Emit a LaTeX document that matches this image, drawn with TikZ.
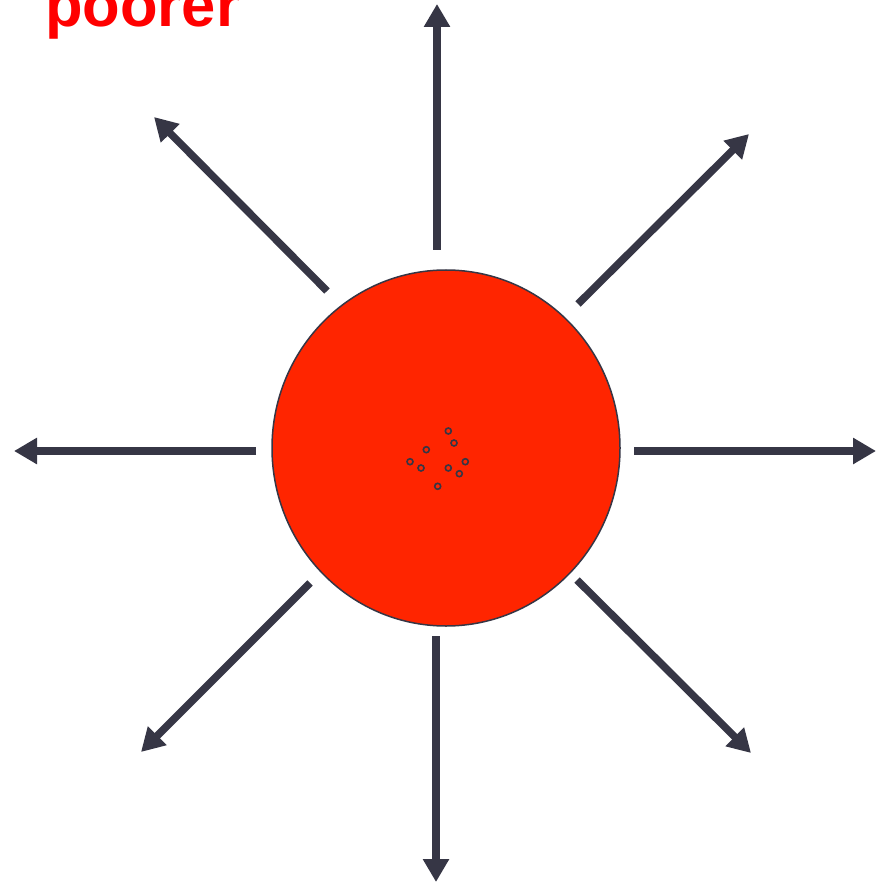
\documentclass[tikz,border=0pt]{standalone}
\usepackage{fontspec}
\setmainfont{Liberation Sans}
\usetikzlibrary{arrows.meta,shapes.geometric}
\definecolor{arr}{HTML}{363645}
\definecolor{ball}{HTML}{FF2500}
\definecolor{txt}{HTML}{FF0000}
\tikzset{
  ray/.style={draw=arr,line width=7.5pt,-{Triangle[length=23pt,width=25pt]}},
  dot/.style={circle,draw=arr,line width=1.6pt,minimum size=6pt,inner sep=0pt}
}
\begin{document}
\begin{tikzpicture}[x=1pt,y=-1pt]
\useasboundingbox (0,0) rectangle (876,882);
\node[ellipse,draw=arr,line width=1.5pt,fill=ball,minimum width=348pt,minimum height=356pt,inner sep=0pt] (sun) at (446,448) {};
\node[anchor=base west,inner sep=0pt,text=txt,font=\bfseries\fontsize{61.5}{72}\selectfont] (lbl) at (45,27) {poorer};
% dots
\node[dot] (d1) at (448.3,431) {};
\node[dot] (d2) at (454,443) {};
\node[dot] (d3) at (426.3,449.7) {};
\node[dot] (d4) at (410,461.7) {};
\node[dot] (d5) at (421,468) {};
\node[dot] (d6) at (448.3,468) {};
\node[dot] (d7) at (465.3,461.7) {};
\node[dot] (d8) at (459.3,473.7) {};
\node[dot] (d9) at (437.7,486.3) {};
% ray coordinates
\coordinate (uS) at (437,250); \coordinate (uE) at (437,4);
\coordinate (dS) at (436,636); \coordinate (dE) at (436,882);
\coordinate (lS) at (256,451); \coordinate (lE) at (14,451);
\coordinate (rS) at (634,451); \coordinate (rE) at (876,451);
\coordinate (nwS) at (327,291); \coordinate (nwE) at (154,117);
\coordinate (neS) at (578,304); \coordinate (neE) at (749,134);
\coordinate (swS) at (310,583); \coordinate (swE) at (141,752);
\coordinate (seS) at (577,580); \coordinate (seE) at (751,753);
\foreach \a in {u,d,l,r,nw,ne,sw,se}{
  \draw[ray] (\a S) -- (\a E);
}
\end{tikzpicture}
\end{document}
